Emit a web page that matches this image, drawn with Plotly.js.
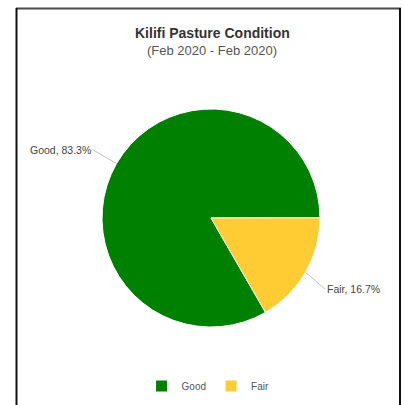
<!DOCTYPE html>
<html>
<head>
<meta charset="utf-8">
<script src="https://cdn.plot.ly/plotly-3.0.1.min.js"></script>
<style>html,body{margin:0;padding:0;background:#fff;}#chart{width:404px;height:405px;}</style>
</head>
<body>
<div id="chart"></div>
<script>
const categories = ["Good", "Fair"];
const percentages = [83.3, 16.7];
const colors = ["#008000", "#ffcc33"];
const chartTitle = "Kilifi Pasture Condition";
const chartSubtitle = "(Feb 2020 - Feb 2020)";

const W = 404, H = 405;
const cx = 211, cy = 218, R = 109;
const rotation = 150;

const domX = [(cx - R) / W, (cx + R) / W];
const domY = [(H - cy - R) / H, (H - cy + R) / H];

const trace = {
  type: "pie",
  labels: categories,
  values: percentages,
  sort: false,
  direction: "clockwise",
  rotation: rotation,
  marker: {colors: colors, line: {color: "#ffffff", width: 1}},
  textinfo: "none",
  hoverinfo: "label+percent",
  domain: {x: domX, y: domY},
  showlegend: true
};

// label annotations with connectors, positioned from data
const total = percentages.reduce((a, b) => a + b, 0);
const labelOffsets = [[-24, -14], [20, 17]];
const annotations = [];
let start = rotation;
percentages.forEach((v, i) => {
  const span = v / total * 360;
  const mid = (start + span / 2) * Math.PI / 180;
  start += span;
  const px = cx + R * Math.sin(mid);
  const py = cy - R * Math.cos(mid);
  const [ax, ay] = labelOffsets[i];
  annotations.push({
    xref: "paper", yref: "paper",
    x: px / W, y: 1 - py / H,
    ax: ax, ay: ay,
    showarrow: true, arrowhead: 0, arrowwidth: 0.8, arrowcolor: "#b0b0b0",
    text: categories[i] + ", " + v.toFixed(1) + "%",
    xanchor: ax < 0 ? "right" : "left",
    yanchor: "middle",
    font: {family: "Liberation Sans, Arial, sans-serif", size: 10.5, color: "#444"}
  });
});

const borderShapes = [
  {type: "line", xref: "paper", yref: "paper", x0: 16/W, x1: 401/W, y0: 1 - 8.5/H, y1: 1 - 8.5/H, line: {color: "#4a4a4a", width: 2}},
  {type: "line", xref: "paper", yref: "paper", x0: 16.5/W, x1: 16.5/W, y0: 1 - 8/H, y1: 0, line: {color: "#111", width: 2}},
  {type: "line", xref: "paper", yref: "paper", x0: 400/W, x1: 400/W, y0: 1 - 8/H, y1: 0, line: {color: "#111", width: 2}}
];

annotations.push({
  xref: "paper", yref: "paper", x: 212/W, y: 1 - 33/H, showarrow: false,
  text: "<b>" + chartTitle + "</b>", xanchor: "center", yanchor: "middle",
  font: {family: "Liberation Sans, Arial, sans-serif", size: 14, color: "#333"}
});
annotations.push({
  xref: "paper", yref: "paper", x: 212/W, y: 1 - 50/H, showarrow: false,
  text: chartSubtitle, xanchor: "center", yanchor: "middle",
  font: {family: "Liberation Sans, Arial, sans-serif", size: 13, color: "#555"}
});

const layout = {
  width: W, height: H,
  margin: {l: 0, r: 0, t: 0, b: 0},
  paper_bgcolor: "#fff",
  showlegend: true,
  legend: {
    orientation: "h", x: 0.515, xanchor: "center", y: 1 - 386/H, yanchor: "middle",
    font: {family: "Liberation Sans, Arial, sans-serif", size: 10, color: "#555"},
    itemwidth: 30
  },
  annotations: annotations,
  shapes: borderShapes
};

Plotly.newPlot("chart", [trace], layout, {displayModeBar: false, staticPlot: true});
</script>
</body>
</html>
